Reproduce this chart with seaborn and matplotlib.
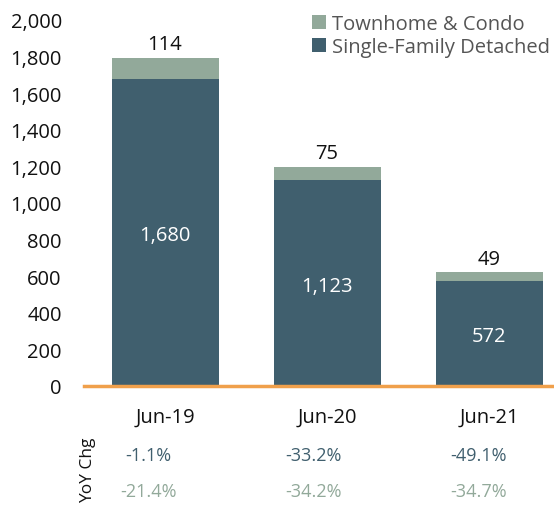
import numpy as np
import pandas as pd
import matplotlib.pyplot as plt
import seaborn as sns

# data
months = ['Jun-19', 'Jun-20', 'Jun-21']
single_family = [1680, 1123, 572]
townhome = [114, 75, 49]
yoy_sf = ['-1.1%', '-33.2%', '-49.1%']
yoy_th = ['-21.4%', '-34.2%', '-34.7%']

dark = '#405f6e'
sage = '#92a99a'
orange = '#f0a04b'

sns.set_style('white')
plt.rcParams['font.family'] = ['Open Sans', 'DejaVu Sans']

df = pd.DataFrame({'month': months, 'sf': single_family, 'th': townhome})
df['total'] = df['sf'] + df['th']

fig = plt.figure(figsize=(5.54, 5.06), dpi=100)
ax = fig.add_axes([0.1516, 0.2352, 0.8484, 0.7233])

# stacked: total in sage, single-family drawn on top
sns.barplot(data=df, x='month', y='total', color=sage, width=0.66,
            saturation=1, linewidth=0, ax=ax, label='Townhome & Condo')
sns.barplot(data=df, x='month', y='sf', color=dark, width=0.66,
            saturation=1, linewidth=0, ax=ax, label='Single-Family Detached')

# yoy columns sit a little left of the bars
yoy_shift = [-0.105, -0.083, -0.065]
for i in range(len(months)):
    ax.text(i, df['sf'][i] / 2 - 15, f"{df['sf'][i]:,}", ha='center', va='center',
            color='white', fontsize=14.5)
    ax.text(i, df['total'][i] + 20, f"{df['th'][i]}", ha='center', va='bottom',
            color='#111111', fontsize=14.5)
    ax.text(i + yoy_shift[i], -375, yoy_sf[i], ha='center', va='center',
            color=dark, fontsize=13)
    ax.text(i + yoy_shift[i], -575, yoy_th[i], ha='center', va='center',
            color=sage, fontsize=13)

ax.text(-0.478, -455, 'YoY Chg', rotation=90, ha='center', va='center',
        color='#111111', fontsize=12.5)

ax.set_xlim(-0.5, 2.40)
ax.set_ylim(0, 2000)
ax.set_yticks(range(0, 2001, 200))
ax.set_yticklabels([f'{v:,}' for v in range(0, 2001, 200)])
ax.set_xlabel('')
ax.set_ylabel('')
ax.tick_params(axis='both', length=0, labelsize=14.5, colors='#111111')
ax.tick_params(axis='y', pad=16)
ax.tick_params(axis='x', pad=15)

for s in ['top', 'right', 'left']:
    ax.spines[s].set_visible(False)
ax.spines['bottom'].set_color(orange)
ax.spines['bottom'].set_linewidth(2.5)

h, l = ax.get_legend_handles_labels()
ax.legend(h, l, loc='upper right', bbox_to_anchor=(1.03, 1.065), frameon=False,
          fontsize=14.5, handlelength=0.7, handleheight=0.7, handletextpad=0.3,
          labelspacing=0.15, labelcolor='#555555')

fig.savefig('out.png', dpi=100)
